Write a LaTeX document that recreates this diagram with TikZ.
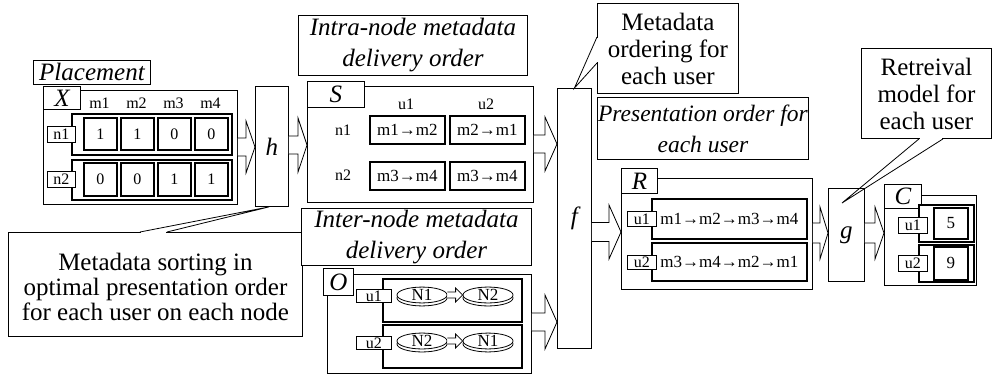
\documentclass[tikz,border=0pt]{standalone}
\usepackage{fontspec}
\setmainfont{Liberation Serif}
\usetikzlibrary{calc,shapes.geometric,shadows}

\tikzset{
  wh/.style 2 args={minimum width=#1pt, minimum height=#2pt},
  box/.style={draw, fill=white, line width=0.9pt, inner sep=0pt, anchor=north west},
  cellbox/.style={box, line width=1.6pt},
  small/.style={font=\fontsize{16}{16}\selectfont},
  mid/.style={font=\fontsize{17}{17}\selectfont},
  tag/.style={box, font=\itshape\fontsize{25}{25}\selectfont},
  title/.style={box, align=center, font=\itshape\fontsize{25}{31}\selectfont},
  note/.style={box, align=center, font=\fontsize{25}{27}\selectfont},
  disk/.style={ellipse, draw, fill=white, line width=0.8pt, wh={50}{15}, inner sep=0pt,
    font=\fontsize{17}{17}\selectfont, copy shadow={shadow xshift=0pt, shadow yshift=-3pt}},
}

\newcommand{\openarrow}[6]{%
  \draw[fill=white, line width=0.8pt] let \p1=(#1.east), \p2=(#2.west), \p3=(0,#3) in
    (\x1,\y3+#4) -- (\x2-#6,\y3+#4) -- (\x2-#6,\y3+#5) -- (\x2,\y3)
    -- (\x2-#6,\y3-#5) -- (\x2-#6,\y3-#4) -- (\x1,\y3-#4);}

\begin{document}
\begin{tikzpicture}[x=1pt, y=-1pt]
\useasboundingbox (0,0) rectangle (992,380);

% placement X
\node[title, wh={117}{24}] (place) at (33,60) {Placement};
\node[box, wh={194}{114}] (Xbox) at (43,90) {};
\node[tag, wh={37}{23}] (Xtag) at (43,86) {X};
\foreach \m [count=\j from 0] in {m1,m2,m3,m4}
    \node[small] (mlab\j) at (99.5+37*\j,103) {\m};
\node[cellbox, wh={160}{41}] (xrow1) at (71,113) {};
\node[cellbox, wh={160}{40}] (xrow2) at (71,159) {};
\foreach \v [count=\j from 0] in {1,1,0,0}
    \node[cellbox, small, wh={33}{32}] (xa\j) at (83+37*\j,117) {\v};
\foreach \v [count=\j from 0] in {0,0,1,1}
    \node[cellbox, small, wh={33}{33}] (xb\j) at (83+37*\j,162) {\v};
\node[box, small, wh={28}{16}] (n1tag) at (47,126) {n1};
\node[box, small, wh={28}{16}] (n2tag) at (47,171) {n2};

\node[box, wh={33}{120}, font=\itshape\fontsize{25}{25}\selectfont] (hbox) at (255,86) {h};

% intra-node order S
\node[title, wh={229}{60}] (intra) at (298,15) {Intra-node metadata\\delivery order};
\node[box, wh={226}{116}] (Sbox) at (307,86) {};
\node[tag, wh={57}{26}] (Stag) at (307,81) {S};
\node[small] (su1) at (406,104) {u1};
\node[small] (su2) at (486,104) {u2};
\node[small] (sn1) at (343,130) {n1};
\node[small] (sn2) at (343,175) {n2};
\node[cellbox, mid, wh={75}{28}] (s11) at (369,115) {m1→m2};
\node[cellbox, mid, wh={75}{28}] (s12) at (449,115) {m2→m1};
\node[cellbox, mid, wh={75}{28}] (s21) at (369,161) {m3→m4};
\node[cellbox, mid, wh={75}{28}] (s22) at (449,161) {m3→m4};

\openarrow{Xbox}{hbox}{147}{9pt}{26pt}{9pt}
\openarrow{hbox}{Sbox}{145}{9pt}{27pt}{9pt}

% sorting note
\node[note, wh={294}{104}, font=\fontsize{25}{25}\selectfont] (sortnote) at (8,232)
    {\rule{0pt}{23pt}Metadata sorting in\\optimal presentation order\\for each user on each node};
\coordinate (htip) at ($(hbox.south)+(-3,0)$);
\coordinate (sb1) at ($(sortnote.north west)+(132,0)$);
\coordinate (sb2) at ($(sortnote.north west)+(159,0)$);
\fill[white] ($(sb1)+(0.6,-1)$) rectangle ($(sb2)+(-0.6,1)$);
\draw[line width=0.8pt] (sb1) -- (htip) -- (sb2);

% inter-node order O
\node[title, wh={230}{57}] (inter) at (301,208) {Inter-node metadata\\delivery order};
\node[box, wh={204}{99}] (Obox) at (327,274) {};
\node[tag, wh={30}{27}] (Otag) at (323,268) {O};
\node[cellbox, wh={139}{43}] (orow1) at (382,278) {};
\node[cellbox, wh={139}{43}] (orow2) at (382,324) {};
\node[box, small, wh={35}{13}] (ou1) at (356,289) {u1};
\node[box, small, wh={35}{13}] (ou2) at (356,336) {u2};
\node[disk] (d11) at (422,295) {N1};
\node[disk] (d12) at (488,295) {N2};
\node[disk] (d21) at (422,341) {N2};
\node[disk] (d22) at (488,341) {N1};
\openarrow{d11}{d12}{295}{3pt}{7pt}{7pt}
\openarrow{d21}{d22}{341}{3pt}{7pt}{7pt}

% f
\node[box, wh={34}{260}, font=\itshape\fontsize{25}{25}\selectfont] (fbox) at (557,88) {f};
\openarrow{Sbox}{fbox}{144}{9pt}{27pt}{12pt}
\openarrow{Obox}{fbox}{322}{9pt}{27pt}{12pt}

\node[note, wh={141}{90}] (ordnote) at (597,3) {Metadata\\ordering for\\each user};
\coordinate (ftip) at (fbox.north);
\coordinate (ob1) at ($(ordnote.north west)+(0,34)$);
\coordinate (ob2) at ($(ordnote.north west)+(0,60)$);
\fill[white] ($(ob1)+(-1,0.6)$) rectangle ($(ob2)+(1,-0.6)$);
\draw[line width=0.8pt] (ob1) -- (ftip) -- (ob2);

% presentation order R
\node[title, wh={211}{62}, font=\itshape\fontsize{23.5}{31}\selectfont] (present) at (597,97)
    {Presentation order for\\each user};
\node[box, wh={191}{111}] (Rbox) at (621,178) {};
\node[tag, wh={36}{25}] (Rtag) at (621,168) {R};
\node[cellbox, mid, wh={155}{40}] (rrow1) at (651,198) {m1→m2→m3→m4};
\node[cellbox, mid, wh={155}{38}] (rrow2) at (651,242) {m3→m4→m2→m1};
\node[box, small, wh={29}{15}] (ru1) at (627,211) {u1};
\node[box, small, wh={29}{14}] (ru2) at (627,255) {u2};
\openarrow{fbox}{Rbox}{232}{9.5pt}{27pt}{12pt}

% g and C
\node[box, wh={36}{93}, font=\itshape\fontsize{25}{25}\selectfont] (gbox) at (828,188) {g};
\openarrow{Rbox}{gbox}{233}{10pt}{26pt}{8pt}
\node[box, wh={92}{90}] (Cbox) at (884,195) {};
\node[tag, wh={37}{24}] (Ctag) at (884,184) {C};
\node[cellbox, wh={55}{37}] (crow1) at (918,204) {};
\node[cellbox, wh={55}{37}] (crow2) at (918,244) {};
\node[box, small, wh={29}{16}] (cu1) at (898,217) {u1};
\node[box, small, wh={29}{16}] (cu2) at (898,255) {u2};
\node[cellbox, mid, wh={34}{31}] (cv1) at (933,207) {5};
\node[cellbox, mid, wh={34}{33}] (cv2) at (933,246) {9};
\openarrow{gbox}{Cbox}{233}{10pt}{26pt}{9pt}

\node[note, wh={130}{90}] (retnote) at (861,48) {Retreival\\model for\\each user};
\coordinate (gtip) at ($(gbox.north west)+(14,15)$);
\coordinate (rb1) at ($(retnote.south west)+(58,0)$);
\coordinate (rb2) at ($(retnote.south west)+(82,0)$);
\fill[white] ($(rb1)+(0.6,-1)$) rectangle ($(rb2)+(-0.6,1)$);
\draw[line width=0.8pt] (rb1) -- (gtip) -- (rb2);

\end{tikzpicture}
\end{document}
